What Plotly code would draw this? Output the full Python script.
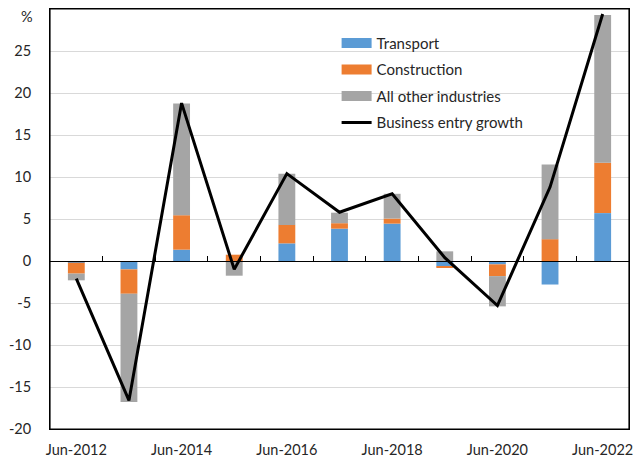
import plotly.graph_objects as go

categories = ["Jun-2012", "Jun-2013", "Jun-2014", "Jun-2015", "Jun-2016", "Jun-2017",
              "Jun-2018", "Jun-2019", "Jun-2020", "Jun-2021", "Jun-2022"]
transport = [-0.2, -1.0, 1.35, 0.0, 2.1, 3.85, 4.45, -0.65, -0.4, -2.8, 5.7]
construction = [-1.3, -2.9, 4.1, 0.75, 2.2, 0.65, 0.6, -0.15, -1.4, 2.6, 6.0]
other = [-0.8, -12.9, 13.3, -1.75, 6.1, 1.25, 2.95, 1.15, -3.6, 8.9, 17.6]
entry_growth = [-2.1, -16.6, 18.8, -1.0, 10.4, 5.8, 8.0, 0.4, -5.3, 8.8, 29.4]

y_ticks = [-20, -15, -10, -5, 0, 5, 10, 15, 20, 25]
y_ticktext = ["-20", "-15", "-10", "-5", "0", "5", "10", "15", "20", "25"]
x_ticks = categories[::2]

series = [
    ("Transport", transport, "#5B9BD5"),
    ("Construction", construction, "#ED7D31"),
    ("All other industries", other, "#A5A5A5"),
]

FONT = "Lato"
TXT = "#262626"

fig = go.Figure()
for i, (name, vals, col) in enumerate(series):
    fig.add_trace(go.Bar(x=categories, y=vals, name=name, marker=dict(color=col, line=dict(width=0)),
                         width=0.32, showlegend=False, xaxis="x", yaxis="y"))
# legend proxies
for i, (name, vals, col) in enumerate(series):
    fig.add_trace(go.Scatter(x=[None], y=[None], mode="lines", name=name,
                             line=dict(color=col, width=10), legendgroup=name,
                             legendrank=i + 1, xaxis="x", yaxis="y"))

fig.add_trace(go.Scatter(x=categories, y=entry_growth, mode="lines", name="Business entry growth",
                         line=dict(color="black", width=3), legendgroup="line", legendrank=4,
                         xaxis="x2", yaxis="y"))

fig.update_layout(
    width=644, height=472,
    margin=dict(l=50, r=15, t=9, b=43, autoexpand=False),
    paper_bgcolor="white", plot_bgcolor="white",
    barmode="relative",
    font=dict(family=FONT, size=15, color=TXT),
    xaxis=dict(type="category", categoryorder="array", categoryarray=categories,
               range=[-0.5, 10.5], tickmode="array", tickvals=x_ticks, ticktext=x_ticks,
               ticks="", showline=True, mirror=True, linecolor="black", linewidth=1,
               automargin=False,
               showgrid=False, zeroline=False, ticklabelstandoff=8,
               tickfont=dict(family=FONT, size=14.5, color=TXT)),
    xaxis2=dict(type="category", categoryorder="array", categoryarray=categories,
                overlaying="x", anchor="free", position=0.4, range=[-0.5, 10.5],
                tickson="boundaries", ticks="inside", ticklen=5, tickcolor="black", tickwidth=1,
                showticklabels=False, showline=True, linecolor="black", linewidth=1,
                showgrid=False, zeroline=False, automargin=False),
    yaxis=dict(range=[-20, 30], tickmode="array", tickvals=y_ticks, ticktext=y_ticktext,
               showgrid=True, gridcolor="#D9D9D9", gridwidth=1, zeroline=False,
               showline=True, mirror=True, linecolor="black", linewidth=1,
               automargin=False,
               ticks="", ticklabelstandoff=15,
               tickfont=dict(family=FONT, size=14.5, color=TXT)),
    legend=dict(x=0.495, y=0.958, xanchor="left", yanchor="top", bgcolor="rgba(0,0,0,0)",
                traceorder="grouped", tracegroupgap=4, itemwidth=30,
                font=dict(family=FONT, size=15, color=TXT)),
    annotations=[dict(text="%", xref="paper", x=0, xanchor="right", xshift=-15,
                      yref="y", y=29.1, yanchor="middle", showarrow=False,
                      font=dict(family=FONT, size=14.5, color=TXT))],
    shapes=[dict(type="rect", xref="paper", yref="paper", x0=0, y0=0, x1=1, y1=1,
                 line=dict(color="black", width=1.2), layer="above")],
)

fig.write_html("out.html", config={"displayModeBar": False},
               post_script="document.body.style.margin='0';document.body.style.padding='0';")
